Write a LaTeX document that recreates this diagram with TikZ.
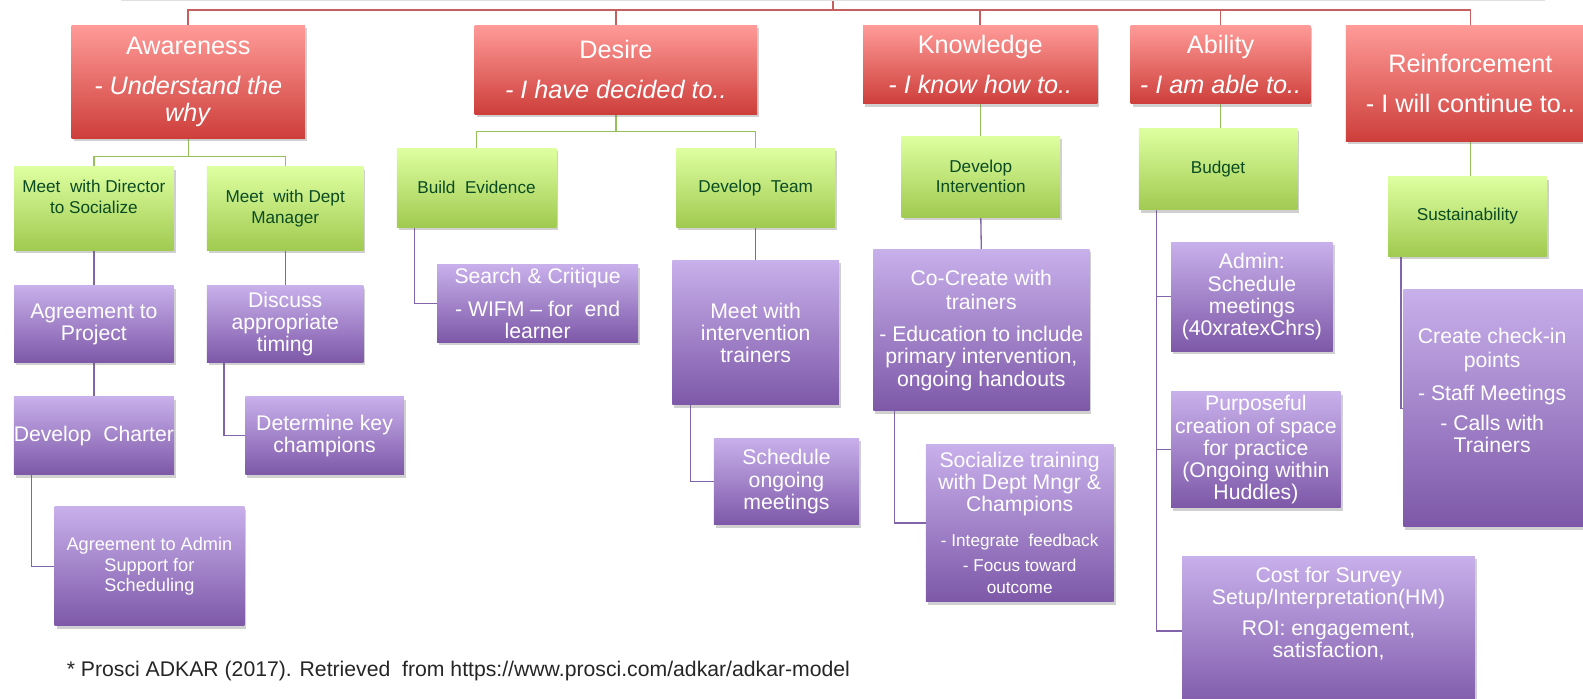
\documentclass[tikz,border=0pt]{standalone}
\usepackage{fontspec}
\setmainfont{Liberation Sans}
\usetikzlibrary{shadows,calc}
\definecolor{rtop}{RGB}{255,155,152}
\definecolor{rbot}{RGB}{205,62,58}
\definecolor{gtop}{RGB}{222,255,160}
\definecolor{gbot}{RGB}{160,202,80}
\definecolor{ptop}{RGB}{200,176,235}
\definecolor{pbot}{RGB}{125,88,168}
\definecolor{rline}{RGB}{200,95,95}
\definecolor{gline}{RGB}{150,192,90}
\definecolor{pline}{RGB}{130,100,170}
\definecolor{gtext}{RGB}{10,75,35}
\newcommand\fs[2]{\fontsize{#1}{#2}\selectfont}
\newcommand\sm{\fs{17}{20}}
\pgfdeclarelayer{bg}
\pgfsetlayers{bg,main}
\tikzset{
  boxshadow/.style={drop shadow={shadow xshift=2pt, shadow yshift=-3pt, opacity=0.3, fill=black!60}},
  basebox/.style={rectangle, inner sep=0pt, align=center, boxshadow},
  redbox/.style={basebox, top color=rtop, bottom color=rbot, text=white, font=\fs{25}{26}},
  greenbox/.style={basebox, top color=gtop, bottom color=gbot, text=gtext, font=\fs{17}{20}},
  purplebox/.style={basebox, top color=ptop, bottom color=pbot, text=white, font=\fs{21}{22}},
  smallbox/.style={purplebox, font=\fs{18}{20}},
  gtxt/.style={text=gtext, font=\fs{17}{20}, align=center, inner sep=0pt},
  ptxt/.style={text=white, font=\fs{21}{22}, align=center, inner sep=0pt},
  rl/.style={draw=rline, line width=1.6pt},
  gl/.style={draw=gline, line width=1.3pt},
  pl/.style={draw=pline, line width=1.3pt},
}
\newcommand\bx[7]{\node[#1, minimum width={(#5-#3)*1pt}, minimum height={(#6-#4)*1pt}] (#2) at ({(#3+#5)/2},{(#4+#6)/2}) {#7};}
\begin{document}
\begin{tikzpicture}[x=1pt,y=-1pt]
\useasboundingbox (0,0) rectangle (1568,692);
\clip (0,0) rectangle (1568,692);
\draw[black!12, line width=1.5pt] (120,0.5) -- (1530,0.5);
% level 1
\bx{redbox}{aw}{71}{25}{302}{137}{Awareness\\[14pt]\textit{- Understand the}\\\textit{why}}
\bx{redbox}{de}{470}{25}{750}{113}{Desire\\[14pt]\textit{- I have decided to..}}
\bx{redbox}{kn}{855}{25}{1087}{103}{Knowledge\\[13pt]\textit{- I know how to..}}
\bx{redbox}{ab}{1120}{25}{1298}{103}{Ability\\[13pt]\textit{- I am able to..}}
\bx{redbox}{re}{1333}{25}{1580}{140}{Reinforcement\\[14pt]- I will continue to..}
% level 2
\bx{greenbox}{md}{14}{165}{172}{248}{}
\node[gtxt] (mdt) at (93,195) {Meet\ \ with Director\\to Socialize};
\bx{greenbox}{mm}{205}{165}{360}{248}{Meet\ \ with Dept\\Manager}
\bx{greenbox}{be}{393}{147}{551}{225}{Build\ \ Evidence}
\bx{greenbox}{dt}{670}{147}{827}{225}{Develop\ \ Team}
\bx{greenbox}{di}{893}{135}{1050}{215}{Develop\\Intervention}
\bx{greenbox}{bu}{1128}{127}{1285}{208}{Budget}
\bx{greenbox}{su}{1375}{175}{1532}{254}{Sustainability}
% level 3
\bx{purplebox}{ap}{14}{283}{172}{359}{Agreement to\\Project}
\bx{purplebox}{dc}{14}{393}{172}{470}{Develop\ \ Charter}
\bx{smallbox}{aa}{54}{502}{242}{620}{Agreement to Admin\\Support for\\Scheduling}
\bx{purplebox}{da}{205}{283}{360}{359}{Discuss\\appropriate\\timing}
\bx{purplebox}{dk}{243}{393}{400}{470}{Determine key\\champions}
\bx{purplebox}{sc}{433}{262}{632}{339}{Search \& Critique\\[10pt]- WIFM – for\ \ end\\learner}
\bx{purplebox}{mi}{666}{258}{831}{401}{Meet with\\intervention\\trainers}
\bx{purplebox}{so}{707}{434}{851}{520}{Schedule\\ongoing\\meetings}
\bx{purplebox}{cc}{865}{247}{1079}{407}{Co-Create with\\[2pt]trainers\\[10pt]- Education to include\\primary intervention,\\ongoing handouts}
\bx{purplebox}{st}{917}{440}{1103}{596}{Socialize training\\with Dept Mngr \&\\Champions\\[12pt]\sm - Integrate\ \ feedback\\[3pt]\sm - Focus toward\\\sm outcome}
\bx{purplebox}{ad}{1160}{240}{1320}{348}{Admin:\\Schedule\\meetings\\(40xratexChrs)}
\bx{purplebox}{pu}{1160}{388}{1328}{503}{Purposeful\\creation of space\\for practice\\(Ongoing within\\Huddles)}
\bx{purplebox}{co}{1171}{551}{1461}{705}{}
\node[ptxt] (cot) at (1316,608) {Cost for Survey\\Setup/Interpretation(HM)\\[8pt]ROI: engagement,\\satisfaction,};
\bx{purplebox}{ck}{1390}{287}{1580}{522}{}
\node[ptxt] (ckt) at (1478,387) {Create check-in\\[2pt]points\\[10pt]- Staff Meetings\\[8pt]- Calls with\\Trainers};
\node[anchor=west, font=\fs{21}{24}, text=black!85, inner sep=0pt] (fn) at (66,665) {* Prosci ADKAR (2017). Retrieved\ \ from https://www.prosci.com/adkar/adkar-model};
\begin{pgfonlayer}{bg}
\fill[white] (0,0) rectangle (1568,692);
\coordinate (root) at (825,0);
\coordinate (hb) at (0,10);
\draw[rl] (root) -- (root |- hb);
\draw[rl] (aw.north) -- (aw.north |- hb) -- (re.north |- hb) -- (re.north);
\draw[rl] (de.north) -- (de.north |- hb);
\draw[rl] (kn.north) -- (kn.north |- hb);
\draw[rl] (ab.north) -- (ab.north |- hb);
\draw[gl] (aw.south) -- ++(0,18) coordinate (awb) -| (md.north);
\draw[gl] (awb) -| (mm.north);
\draw[gl] (de.south) -- ++(0,17) coordinate (deb) -| (be.north);
\draw[gl] (deb) -| (dt.north);
\draw[gl] (kn.south) -- (kn.south |- di.north);
\draw[gl] (ab.south) -- (ab.south |- bu.north);
\draw[gl] (re.south) -- (re.south |- su.north);
\draw[pl] (md.south) -- (ap.north);
\draw[pl] (ap.south) -- (dc.north);
\draw[pl] ($(dc.south west)+(18,0)$) |- (aa.west);
\draw[pl] (mm.south) -- (da.north);
\draw[pl] ($(da.south west)+(17,0)$) |- (dk.west);
\draw[pl] ($(be.south west)+(18,0)$) |- (sc.west);
\draw[pl] (dt.south) -- (mi.north);
\draw[pl] ($(mi.south west)+(18,0)$) |- (so.west);
\draw[pl] (di.south) -- (cc.north);
\draw[pl] ($(cc.south west)+(21,0)$) |- (st.west);
\draw[pl] ($(bu.south west)+(18,0)$) coordinate (bub) |- ($(co.west)+(0,-3)$);
\draw[pl] (bub) |- (ad.west);
\draw[pl] (bub) |- (pu.west);
\draw[pl] ($(su.south west)+(13,0)$) |- (ck.west);
\end{pgfonlayer}
\end{tikzpicture}
\end{document}
